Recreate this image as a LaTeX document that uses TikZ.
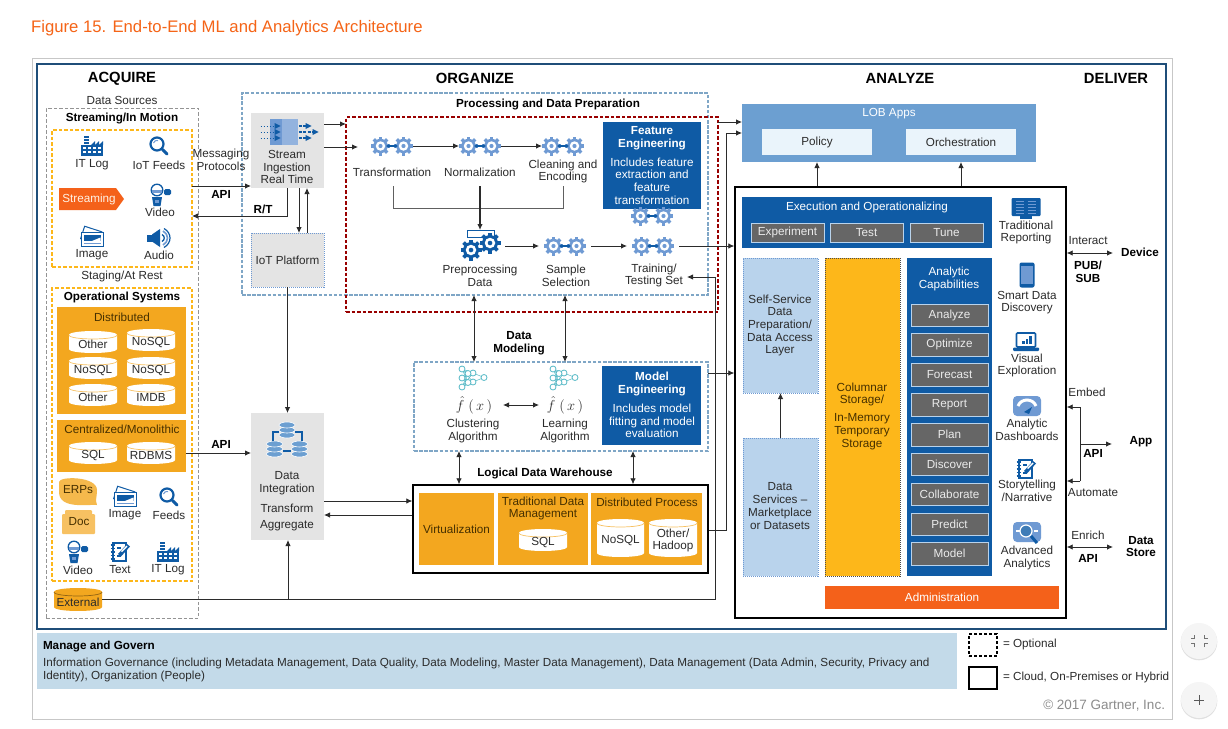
\documentclass[tikz,border=0pt]{standalone}
\usepackage{fontspec}
\setmainfont{Liberation Sans}
\usetikzlibrary{arrows.meta}
\definecolor{txt}{HTML}{2B2B2B}
\definecolor{bl}{HTML}{0F5BA5}
\definecolor{midb}{HTML}{6F9AD3}
\definecolor{lob}{HTML}{6C9FD1}
\definecolor{pale}{HTML}{EAF4FB}
\definecolor{ssb}{HTML}{B9D3EC}
\definecolor{org}{HTML}{F3A71F}
\definecolor{col}{HTML}{FDB71A}
\definecolor{adm}{HTML}{F4611A}
\definecolor{btn}{HTML}{666666}
\definecolor{gbox}{HTML}{E4E4E4}
\definecolor{frame}{HTML}{1F4E79}
\definecolor{band}{HTML}{C3DAE9}
\definecolor{teal}{HTML}{55B9C6}
\definecolor{onorg}{HTML}{463000}
\definecolor{dbl}{HTML}{7FA6C6}
\newcommand\tlab{\fontsize{11.7}{12.7}\selectfont}
\newcommand\thead{\fontsize{14.8}{16}\selectfont\bfseries}
\tikzset{
 lbl/.style={font=\tlab,text=txt,align=center,inner sep=0pt,outer sep=0pt},
 lblb/.style={lbl,font=\tlab\bfseries,text=black},
 lblo/.style={lbl,text=onorg},
 lblw/.style={lbl,text=white},
 head/.style={lbl,font=\thead,text=black},
 boxn/.style={inner sep=0pt,outer sep=0pt,font=\tlab,align=center,text=txt},
 arr/.style={draw=txt,line width=.85pt,-{Latex[length=6pt,width=5.5pt]}},
 darr/.style={draw=txt,line width=.85pt,{Latex[length=6pt,width=5.5pt]}-{Latex[length=6pt,width=5.5pt]}},
 ln/.style={draw=txt,line width=.85pt},
 dgrey/.style={boxn,draw=gray!85,dash pattern=on 3.5pt off 2pt,line width=1pt},
 dorg/.style={boxn,draw=col,dash pattern=on 3.5pt off 2pt,line width=1.2pt},
 dblue/.style={boxn,draw=dbl,dash pattern=on 3.5pt off 1.6pt,line width=1.2pt},
 dred/.style={boxn,draw=red!60!black,dash pattern=on 3.5pt off 2pt,line width=1.2pt},
 forg/.style={boxn,fill=org,text=onorg},
 fbl/.style={boxn,fill=bl,text=white},
 fgrey/.style={boxn,fill=gbox},
 bbtn/.style={boxn,fill=btn,draw=ssb,line width=.8pt,text=white!92!black},
 dots/.style={boxn,draw=midb,dash pattern=on 1pt off 1pt,line width=.8pt},
 hold/.style={inner sep=0pt,outer sep=0pt},
}
\newcommand\bx[7]{\node[#6,minimum width={(#4-#2)*1pt},minimum height={(#5-#3)*1pt}] (#1) at ({(#2+#4)/2},{(#3+#5)/2}) {#7};}
\newcommand\lb[4]{\node[lbl] (#1) at (#2,#3) {#4};}
\newcommand\lbb[4]{\node[lblb] (#1) at (#2,#3) {#4};}
\newcommand\lbo[4]{\node[lblo] (#1) at (#2,#3) {#4};}
\newcommand\lbw[4]{\node[lblw] (#1) at (#2,#3) {#4};}
% cylinder: name x1 y1 x2 y2 bodycolour linecolour text
\newcommand\Cyl[8]{%
 \fill[#6] (#2,{#3+4}) .. controls (#2,{#3-1.3}) and (#4,{#3-1.3}) .. (#4,{#3+4}) -- (#4,{#5-4}) .. controls (#4,{#5+1.3}) and (#2,{#5+1.3}) .. (#2,{#5-4}) -- cycle;
 \draw[#7,line width=.7pt] (#2,{#3+4}) .. controls (#2,{#3+9.3}) and (#4,{#3+9.3}) .. (#4,{#3+4});
 \node[boxn,text=txt,minimum width={(#4-#2)*1pt},minimum height={(#5-#3)*1pt}] (#1) at ({(#2+#4)/2},{(#3+#5)/2+2.5}) {#8};}
\newcommand\Gear[4]{\begin{scope}[shift={(#1,#2)}]
 \foreach \a in {0,45,90,135}{\fill[#4,rotate=\a] ({-#3*.17},{-#3}) rectangle ({#3*.17},{#3});}
 \fill[#4] (0,0) circle ({#3*.76}); \fill[white] (0,0) circle ({#3*.5}); \fill[#4] (0,0) circle ({#3*.22});
 \end{scope}}
\newcommand\GearPair[2]{\Gear{#1-11.5}{#2}{9.5}{midb}\Gear{#1+11.5}{#2}{9.5}{midb}
 \draw[bl,line width=1.5pt,{Latex[length=3pt,width=4pt]}-{Latex[length=3pt,width=4pt]}] ({#1-6},#2) -- ({#1+6},#2);}
\newcommand\IcoFactory[2]{\begin{scope}[shift={(#1,#2)}]
 \fill[bl] (-11,10) rectangle (11,-1);
 \fill[bl] (-1,-1)--(3,-5)--(3,-1)--(7,-5)--(7,-1)--(11,-5)--(11,-1)--cycle;
 \foreach \yy in {-10,-7,-4}{\fill[bl] (-8,\yy) rectangle (-3,\yy+1.8);}
 \foreach \xx in {-9,-4,1,6}\foreach \yy in {1,5}{\fill[white] (\xx,\yy) rectangle (\xx+2.6,\yy+2.4);}
 \end{scope}}
\newcommand\IcoLens[2]{\begin{scope}[shift={(#1,#2)}]
 \draw[bl,line width=2.2pt] (-2,-2) circle (6.5);
 \draw[midb,line width=1pt] (-5.5,-3) .. controls (-5,-5) and (-3,-6) .. (-1,-5.5);
 \draw[bl,line width=3pt,line cap=round] (3.5,3.5) -- (8,8);
 \end{scope}}
\newcommand\IcoVideo[2]{\begin{scope}[shift={(#1,#2)}]
 \fill[bl] (-7,2)--(3,2)--(1.5,11)--(-5.5,11)--cycle;
 \fill[midb] (-4,5) rectangle (0,8);
 \draw[bl,line width=1.3pt,fill=white] (-2,-5) circle (5.8);
 \fill[midb] (-7,-5) rectangle (3,-2.5);
 \fill[bl,rounded corners=1.5pt] (5,-6) rectangle (12,0);
 \end{scope}}
\newcommand\IcoImage[2]{\begin{scope}[shift={(#1,#2)}]
 \draw[bl,line width=1pt,fill=white,rotate=-18] (-10,-7) rectangle (8,6);
 \draw[bl,line width=1pt,fill=white] (-11,-4) rectangle (11,10);
 \fill[bl] (-8.5,-1.5) rectangle (8.5,5);
 \fill[white] (0,5)--(8.5,1.5)--(8.5,5)--cycle;
 \draw[midb,line width=1pt] (-8.5,7.5) -- (8.5,7.5);
 \end{scope}}
\newcommand\IcoAudio[2]{\begin{scope}[shift={(#1,#2)}]
 \fill[bl] (-12,-3.5) rectangle (-6,3.5);
 \fill[bl] (-7,-3.5)--(1,-9)--(1,9)--(-7,3.5)--cycle;
 \draw[bl,line width=1.3pt] (3,-3.5) .. controls (6,-2) and (6,2) .. (3,3.5);
 \draw[midb,line width=1.6pt] (4,-7) .. controls (10,-4) and (10,4) .. (4,7);
 \draw[bl,line width=1.2pt] (5,-9.5) .. controls (13,-5) and (13,5) .. (5,9.5);
 \end{scope}}
\newcommand\IcoBook[2]{\begin{scope}[shift={(#1,#2)}]
 \draw[bl,line width=1.3pt,fill=white] (-7,-9) rectangle (6,9);
 \foreach \yy in {-7,-3.5,0,3.5,7}{\draw[bl,line width=1.3pt] (-9.5,\yy) -- (-5,\yy);}
 \fill[bl] (-3,-5) rectangle (1,-3.5); \fill[bl] (-3,3) rectangle (1,4.5);
 \fill[bl] (-2,2)--(7,-8)--(10,-5.5)--(1,4.5)--cycle;
 \fill[white] (1,-1)--(6.5,-6.5)--(7.5,-5.5)--(2,0)--cycle;
 \end{scope}}
\newcommand\NNet[2]{\begin{scope}[shift={(#1,#2)}]
 \foreach \p in {(-11,-9),(-11,0),(-11,9)}\foreach \q in {(0,-5),(0,4),(-5,-4.5),(-5,4.5)}{\draw[teal,line width=.5pt] \p -- \q;}
 \foreach \q in {(0,-5),(0,4)}{\draw[teal,line width=.5pt] \q -- (11,-.5);}
 \foreach \c in {(-11,-9),(-11,0),(-11,9),(0,-5),(0,4),(11,-.5),(-5,-4.5),(-5,4.5)}{\draw[teal,line width=.8pt,fill=white] \c circle (3);}
 \end{scope}}
\newcommand\DBstack[2]{\foreach \i in {2,1,0}{\draw[white,line width=.6pt,fill=lob] (#1,{#2+\i*5}) ellipse (8 and 3);}}
\begin{document}
\begin{tikzpicture}[x=1pt,y=-1pt]
\useasboundingbox (0,0) rectangle (1228,728);
\fill[white] (0,0) rectangle (1228,728);
\node[inner sep=0pt,anchor=west,font=\fontsize{16.7}{18}\selectfont,text=adm!90!orange] (title) at (31,28) {Figure 15. End-to-End ML and Analytics Architecture};
\bx{pageframe}{32}{58}{1172}{719}{draw=black!22,line width=1pt}{}
\bx{mainframe}{37}{64}{1166}{629}{draw=frame,line width=1.4pt}{}
% headers
\node[head] (hA) at (122,78.5) {ACQUIRE};
\node[head] (hO) at (475,78.5) {ORGANIZE};
\node[head] (hN) at (900,78.5) {ANALYZE};
\node[head] (hD) at (1116,78.5) {DELIVER};
% acquire
\lb{ds}{122}{100}{Data Sources}
\bx{srcbox}{46}{108}{198}{618}{dgrey}{}
\lbb{sim}{122}{118}{Streaming/In Motion}
\bx{streambox}{52}{130}{192}{267}{dorg}{}
\IcoFactory{92}{146}\lb{l1}{92}{165}{IT Log}
\IcoLens{159}{146}\lb{l2}{159}{165}{IoT Feeds}
\fill[adm] (59,188)--(116,188)--(124,199)--(116,210)--(59,210)--cycle;
\node[lbl,text=white!90!orange] (tag) at (89,199) {Streaming};
\IcoVideo{159}{195}\lb{l3}{160}{212}{Video}
\IcoImage{92}{236}\lb{l4}{92}{255}{Image}
\IcoAudio{159}{238}\lb{l5}{159}{255}{Audio}
\lb{sar}{122}{276}{Staging/At Rest}
\bx{opbox}{52}{288}{192}{581}{dorg}{}
\lbb{ops}{122}{297}{Operational Systems}
\bx{dist}{57}{307}{186}{414}{forg}{}
\lbo{dl}{122}{317}{Distributed}
\Cyl{c1}{69}{331}{117}{353}{white}{org!70}{Other}
\Cyl{c2}{127}{329}{175}{351}{white}{org!70}{NoSQL}
\Cyl{c3}{69}{357}{117}{379}{white}{org!70}{NoSQL}
\Cyl{c4}{127}{357}{175}{379}{white}{org!70}{NoSQL}
\Cyl{c5}{69}{384}{117}{406}{white}{org!70}{Other}
\Cyl{c6}{127}{384}{175}{406}{white}{org!70}{IMDB}
\bx{cent}{57}{420}{186}{472}{forg}{}
\lbo{cl}{122}{429}{Centralized/Monolithic}
\Cyl{c7}{69}{442}{117}{464}{white}{org!70}{SQL}
\Cyl{c8}{127}{442}{175}{464}{white}{org!70}{RDBMS}
\fill[org!80!white] (59,482) .. controls (59,476) and (97,476) .. (97,490) .. controls (97,497) and (95,500) .. (97,505) .. controls (90,504) and (59,510) .. (59,492) -- cycle;
\lbo{erp}{78}{490}{ERPs}
\fill[org!70!white,rounded corners=1pt] (65,510) rectangle (92,531); \fill[org!70!white,rounded corners=1pt] (62,514) rectangle (95,534);
\lbo{doc}{79}{522}{Doc}
\IcoImage{125}{496}\lb{l6}{125}{515}{Image}
\IcoLens{169}{497}\lb{l7}{169}{515}{Feeds}
\IcoVideo{76}{552}\lb{l8}{78}{570}{Video}
\IcoBook{120}{552}\lb{l9}{120}{570}{Text}
\IcoFactory{168}{552}\lb{l10}{168}{570}{IT Log}
\Cyl{ext}{54}{588}{102}{611}{org}{org!60!black}{External}
% middle left
\bx{procbox}{242}{93}{708}{295}{dblue}{}
\bx{redbox}{346}{117}{718}{312}{dred}{}
\lbb{pdp}{548}{104}{Processing and Data Preparation}
\bx{ingest}{251}{113}{324}{188}{fgrey}{}
\begin{scope}[shift={(287.5,132)}]
 \fill[midb!75] (-18,-13) rectangle (10,13);
 \fill[midb] (-18,-13) rectangle (-6,13);
 \foreach \yy in {-6,0,6}{\draw[bl,line width=1pt,dotted] (-27,\yy) -- (-12,\yy); \fill[bl] (-13,\yy-3)--(-7,\yy)--(-13,\yy+3)--cycle;}
 \foreach \yy/\xe in {-6/24,0/31,6/24}{\draw[bl,line width=1.1pt,dash pattern=on 3pt off 1.5pt] (11,\yy) -- (\xe-4,\yy); \fill[bl] (\xe-6,\yy-3)--(\xe,\yy)--(\xe-6,\yy+3)--cycle;}
\end{scope}
\lb{sir}{287}{167}{Stream\\Ingestion\\Real Time}
\bx{iot}{251}{233}{324}{287}{dots,fill=gbox}{IoT Platform}
\lb{mp}{221}{159.5}{Messaging\\Protocols}
\lbb{api1}{221}{194}{API}
\lbb{rt}{263}{209}{R/T}
\bx{integ}{251}{413}{324}{540}{fgrey}{}
\DBstack{287}{425}\DBstack{274.5}{444}\DBstack{299.5}{444}
\draw[bl,line width=1.8pt] (273,441)--(273,432)--(279,432) (295,432)--(302,432)--(302,441) (283,451)--(291,451);
\lb{it1}{287}{483.5}{Data\\Integration}
\lb{it2}{287}{508}{Transform}
\lb{it3}{287}{526}{Aggregate}
\lbb{api2}{221}{444}{API}
% processing
\node[hold,minimum width=42pt,minimum height=20pt] (gT) at (392,146) {}; \GearPair{392}{146}
\node[hold,minimum width=42pt,minimum height=20pt] (gN) at (480,146) {}; \GearPair{480}{146}
\node[hold,minimum width=42pt,minimum height=20pt] (gC) at (563,146) {}; \GearPair{563}{146}
\lb{lT}{392}{172}{Transformation}
\lb{lN}{480}{172}{Normalization}
\lb{lC}{563}{171.5}{Cleaning and\\Encoding}
\bx{feat}{603}{122}{701}{209}{fbl}{}
\node[lblw,font=\tlab\bfseries] (f1) at (652,138.5) {Feature\\Engineering};
\lbw{f2}{652}{181}{Includes feature\\extraction and\\feature\\transformation}
\GearPair{652}{216}
\node[hold,minimum width=50pt,minimum height=30pt] (gP) at (480,246) {};
\draw[bl,line width=.8pt] (467,230) rectangle (494,237);
\Gear{471}{250}{10.5}{bl}\Gear{490}{243}{10.5}{bl}
\node[hold,minimum width=52pt,minimum height=20pt] (gS) at (565,246) {}; \GearPair{565}{246}
\node[hold,minimum width=52pt,minimum height=20pt] (gTr) at (653,246) {}; \GearPair{653}{246}
\lb{lP}{480}{275.5}{Preprocessing\\Data}
\lb{lS}{566}{275.5}{Sample\\Selection}
\lb{lTr}{654}{275.5}{Training/\\Testing Set}
\coordinate (brL) at (393,186); \coordinate (brLb) at (393,208); \coordinate (brR) at (563,186); \coordinate (brRb) at (563,208);
\coordinate (nT) at (480,186); \coordinate (nB) at (480,230);
\draw[draw=txt!75,line width=.85pt] (brL)--(brLb)--(brRb)--(brR);
\draw[arr,line width=1.1pt] (nT)--(nB);
\draw[arr] (gT.east)--(gN.west);
\draw[arr] (gN.east)--(gC.west);
\draw[arr] (gP.east)--(gS.west);
\draw[arr] (gS.east)--(gTr.west);
% model
\lbb{dm}{519}{343.5}{Data\\Modeling}
\bx{modelbox}{414}{362}{708}{451}{dblue}{}
\NNet{473}{378}\NNet{564}{378}
\node[lbl,font=\fontsize{14.5}{15}\selectfont,minimum width=40pt] (fa) at (474,405) {$\hat f\;(\,x\,)$};
\node[lbl,font=\fontsize{14.5}{15}\selectfont,minimum width=40pt] (fb) at (565,405) {$\hat f\;(\,x\,)$};
\draw[darr] ([xshift=9pt]fa.east) -- ([xshift=-6pt]fb.west);
\lb{lCl}{473}{431}{Clustering\\Algorithm}
\lb{lLe}{565}{431}{Learning\\Algorithm}
\bx{modeng}{602}{366}{701}{445}{fbl}{}
\node[lblw,font=\tlab\bfseries] (m1) at (652,384) {Model\\Engineering};
\lbw{m2}{652}{421}{Includes model\\fitting and model\\evaluation}
\lbb{ldw}{545}{473}{Logical Data Warehouse}
\bx{dw}{413}{485}{708}{573}{draw=black,line width=1.4pt}{}
\bx{virt}{419}{493}{494}{565}{forg}{Virtualization}
\bx{trad}{498}{493}{588}{565}{forg}{}
\lbo{tl}{543}{508.5}{Traditional Data\\Management}
\Cyl{d1}{519}{529}{567}{551}{white}{org!70}{SQL}
\bx{dproc}{591}{493}{702}{565}{forg}{}
\lbo{dpl}{647}{502}{Distributed Process}
\Cyl{d2}{597}{519}{644}{557}{white}{org!70}{NoSQL}
\Cyl{d3}{649}{519}{697}{557}{white}{org!70}{Other/\\Hadoop}
% analyze
\bx{lobb}{742}{104}{1036}{162}{boxn,fill=lob}{}
\lbw{lobt}{889}{114}{LOB Apps}
\bx{policy}{762}{129}{872}{155}{boxn,fill=pale}{Policy}
\bx{orch}{906}{129}{1016}{155}{boxn,fill=pale}{Orchestration}
\bx{anl}{735}{187}{1066}{618}{draw=black,line width=1.4pt}{}
\bx{exec}{742}{197}{992}{248}{fbl}{}
\lbw{ext1}{867}{207}{Execution and Operationalizing}
\bx{bE}{751}{223}{824}{242}{bbtn}{Experiment}
\bx{bT}{830}{223}{903}{242}{bbtn}{Test}
\bx{bTu}{910}{223}{983}{242}{bbtn}{Tune}
\bx{self}{743}{258}{818}{393}{dots,fill=ssb}{}
\lb{sfl}{780}{325.5}{Self-Service\\Data\\Preparation/\\Data Access\\Layer}
\bx{dsv}{743}{438}{818}{576}{dots,fill=ssb}{}
\lb{dsl}{780}{506}{Data\\Services –\\Marketplace\\or Datasets}
\bx{colu}{825}{258}{900}{576}{boxn,fill=col,draw=black!70,dash pattern=on 1pt off 1pt,line width=.7pt}{}
\lbo{cs1}{862}{394.5}{Columnar\\Storage/}
\lbo{cs2}{862}{431.5}{In-Memory\\Temporary\\Storage}
\bx{cap}{907}{258}{992}{576}{fbl}{}
\lbw{capl}{949}{279}{Analytic\\Capabilities}
\bx{b1}{911}{304}{988}{326}{bbtn}{Analyze}
\bx{b2}{911}{333}{988}{356}{bbtn}{Optimize}
\bx{b3}{911}{363}{988}{386}{bbtn}{Forecast}
\bx{b4}{911}{393}{988}{416}{bbtn}{Report}
\bx{b5}{911}{423}{988}{446}{bbtn}{Plan}
\bx{b6}{911}{453}{988}{475}{bbtn}{Discover}
\bx{b7}{911}{483}{988}{505}{bbtn}{Collaborate}
\bx{b8}{911}{513}{988}{535}{bbtn}{Predict}
\bx{b9}{911}{542}{988}{565}{bbtn}{Model}
\bx{admin}{825}{586}{1059}{609}{boxn,fill=adm,text=white}{Administration}
% right icons
\begin{scope}[shift={(1026,208)}]
 \fill[bl,rounded corners=1pt] (-14.5,-10) rectangle (14.5,8);
 \fill[bl] (-6,8) rectangle (6,10.5);
 \foreach \yy in {-7,-4,-1,2,5}{\draw[midb,line width=.9pt,dash pattern=on 1.5pt off .6pt] (-10,\yy) -- (-2,\yy); \draw[midb,line width=.9pt,dash pattern=on 1.5pt off .6pt] (2,\yy) -- (10,\yy);}
\end{scope}
\lb{r1}{1026}{232.5}{Traditional\\Reporting}
\begin{scope}[shift={(1027,275)}]
 \fill[bl,rounded corners=2pt] (-7.5,-12.5) rectangle (7.5,12.5);
 \fill[midb] (-6,-9) rectangle (6,9);
\end{scope}
\lb{r2}{1027}{302.5}{Smart Data\\Discovery}
\begin{scope}[shift={(1026,342)}]
 \draw[bl,line width=1.6pt,rounded corners=1pt,fill=white] (-9.5,-9) rectangle (9.5,5);
 \fill[bl] (-4,-1) rectangle (-1.5,2); \fill[bl] (-.5,-3) rectangle (2,2); \fill[bl] (3,-6) rectangle (5.5,2);
 \fill[bl,rounded corners=1pt] (-13,5.5) rectangle (13,9);
\end{scope}
\lb{r3}{1027}{365.5}{Visual\\Exploration}
\begin{scope}[shift={(1027,406)}]
 \fill[midb,rounded corners=4pt] (-14,-10) rectangle (14,10);
 \draw[white,line width=3pt] (-9,0) .. controls (-6,-8) and (6,-8) .. (9,0);
 \fill[bl] (-3,6)--(5,1)--(2,8)--cycle;
\end{scope}
\lb{r4}{1027}{429.5}{Analytic\\Dashboards}
\IcoBook{1026}{469}
\lb{r5}{1027}{491}{Storytelling\\/Narrative}
\begin{scope}[shift={(1027,533)}]
 \fill[midb,rounded corners=4pt] (-14,-11) rectangle (14,9);
 \draw[white,line width=1.2pt] (-11,-2) -- (-7,-2) (7,-2) -- (11,-2);
 \draw[white,line width=1.2pt,fill=bl!80] (-1,-2) circle (6);
 \draw[bl,line width=3pt] (4,3) -- (10,10);
\end{scope}
\lb{r6}{1027}{558}{Advanced\\Analytics}
% deliver
\lb{ia}{1088}{241}{Interact}
\lbb{dev}{1140}{252}{Device}
\lbb{pub}{1088}{271.5}{PUB/\\SUB}
\lb{emb}{1087}{392}{Embed}
\lbb{app}{1141}{442}{App}
\lbb{api3}{1093}{453}{API}
\lb{aut}{1093}{493}{Automate}
\lb{enr}{1088}{535}{Enrich}
\lbb{dst}{1141}{546.5}{Data\\Store}
\lbb{api4}{1088}{558}{API}
% connectors
\coordinate (y124) at (0,124); \coordinate (y147) at (0,147); \coordinate (y186) at (0,186); \coordinate (y216) at (0,216);
\coordinate (x299) at (299,0); \coordinate (x307) at (307,0); \coordinate (gtin) at (358,147);
\draw[arr] (ingest.east |- y124) -- (redbox.west |- y124);
\draw[arr] (ingest.east |- y147) -- (gtin);
\draw[arr] (streambox.east |- y186) -- (ingest.west |- y186);
\draw[arr] (ingest.south) -- (ingest.south |- y216) -- (streambox.east |- y216);
\draw[arr] (x299 |- ingest.south) -- (x299 |- iot.north);
\draw[arr] (x307 |- iot.north) -- (x307 |- ingest.south);
\draw[arr] (iot.south) -- (integ.north);
\coordinate (y453) at (0,453);
\draw[arr] (cent.east |- y453) -- (integ.west |- y453);
\coordinate (y501) at (0,501); \coordinate (y515) at (0,515);
\draw[arr] (integ.east |- y501) -- (dw.west |- y501);
\draw[arr] (dw.west |- y515) -- (integ.east |- y515);
\coordinate (j1) at (288,599); \coordinate (e1) at (715,599); \coordinate (e2) at (715,277); \coordinate (e3) at (687,277);
\draw[ln] (ext.east |- j1) -- (e1) -- (e2);
\draw[arr] (e2) -- (e3);
\draw[arr] (j1) -- (j1 |- integ.south);
\coordinate (y530) at (0,530); \coordinate (k1) at (726,530); \coordinate (k2) at (726,133);
\draw[ln] (dw.east |- y530) -- (k1) -- (k2);
\draw[arr] (k2) -- (lobb.west |- k2);
\coordinate (y122) at (0,122);
\draw[arr] (redbox.east |- y122) -- (lobb.west |- y122);
\coordinate (y373) at (0,373);
\draw[arr] (modelbox.east |- y373) -- (anl.west |- y373);
\draw[arr] (gTr.east) -- (anl.west |- gTr.east);
\coordinate (x474) at (474,0); \coordinate (x565) at (565,0);
\draw[darr] (x474 |- procbox.south) -- (x474 |- modelbox.north);
\draw[darr] (x565 |- procbox.south) -- (x565 |- modelbox.north);
\coordinate (x459) at (459,0); \coordinate (x633) at (633,0);
\draw[darr] (x459 |- modelbox.south) -- (x459 |- dw.north);
\draw[darr] (x633 |- modelbox.south) -- (x633 |- dw.north);
\draw[arr] (policy.south |- anl.north) -- (policy.south |- lobb.south);
\draw[arr] (orch.south |- anl.north) -- (orch.south |- lobb.south);
\draw[arr] (dsv.north) -- (self.south);
\coordinate (y253) at (0,253); \coordinate (dv) at (1113,253);
\draw[darr] (anl.east |- y253) -- (dv);
\coordinate (b1t) at (1080,407); \coordinate (b1b) at (1080,481); \coordinate (b1m) at (1080,444); \coordinate (apt) at (1112,444);
\draw[arr] (b1t) -- (anl.east |- b1t);
\draw[ln] (b1t) -- (b1b);
\draw[arr] (b1b) -- (anl.east |- b1b);
\draw[arr] (b1m) -- (apt);
\coordinate (y547) at (0,547); \coordinate (ds2) at (1113,547);
\draw[darr] (anl.east |- y547) -- (ds2);
% bottom
\bx{govband}{37}{633}{957}{689}{boxn,fill=band}{}
\node[lblb,anchor=west,font=\fontsize{11.7}{13}\selectfont\bfseries] (gov1) at (43,646) {Manage and Govern};
\node[lbl,anchor=north west,align=left,font=\fontsize{11.7}{12.9}\selectfont] (gov2) at (43,658.5) {Information Governance (including Metadata Management, Data Quality, Data Modeling, Master Data Management), Data Management (Data Admin, Security, Privacy and\\Identity), Organization (People)};
\bx{lg1}{969}{634}{997}{656}{draw=black,line width=1.2pt,dash pattern=on 3pt off 2pt}{}
\bx{lg2}{969}{667}{997}{689}{draw=black,line width=1.3pt}{}
\node[lbl,anchor=west,font=\fontsize{11.7}{13}\selectfont] (lg1t) at (1003,644) {= Optional};
\node[lbl,anchor=west,font=\fontsize{11.7}{13}\selectfont] (lg2t) at (1003,677) {= Cloud, On-Premises or Hybrid};
\node[lbl,anchor=east,font=\fontsize{13.5}{14}\selectfont,text=black!45] (cr) at (1165,706) {© 2017 Gartner, Inc.};
% page controls
\fill[black!12] (1199,642) circle (18.3);
\fill[black!4] (1199,641) circle (18);
\fill[black!12] (1199,701) circle (18.3);
\fill[black!4] (1199,700) circle (18);
\draw[black!55,line width=1pt] (1194,635)--(1194,638.5)--(1190.5,638.5) (1204,635)--(1204,638.5)--(1207.5,638.5) (1194,647)--(1194,643.5)--(1190.5,643.5) (1204,647)--(1204,643.5)--(1207.5,643.5);
\draw[black!65,line width=1pt] (1199,695)--(1199,705) (1194,700)--(1204,700);
\end{tikzpicture}
\end{document}
